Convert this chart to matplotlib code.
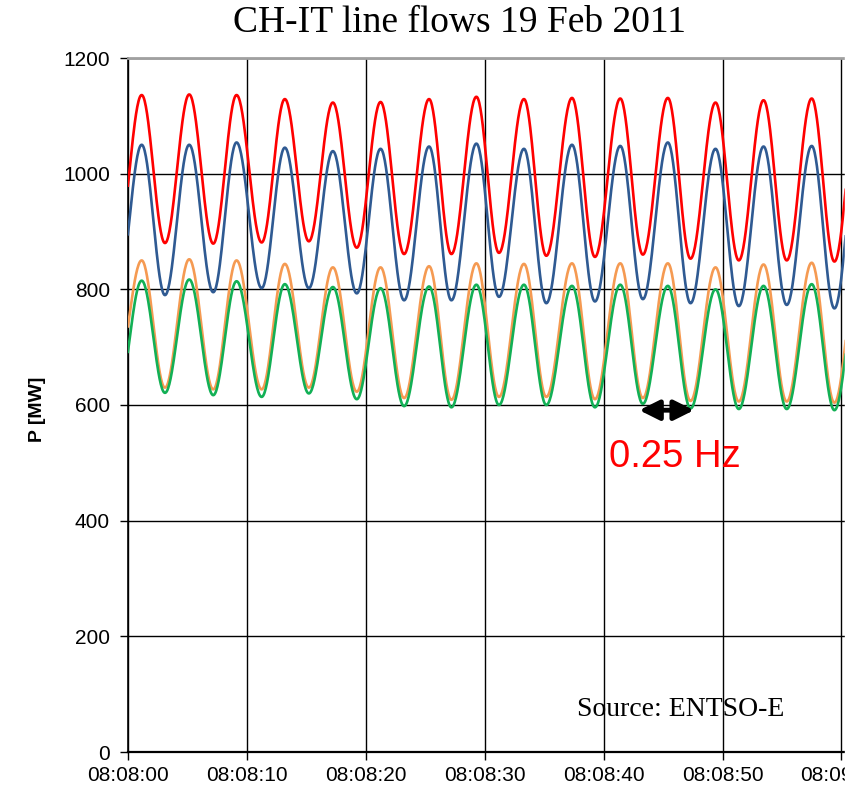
import numpy as np
import matplotlib
matplotlib.use('Agg')
import matplotlib.pyplot as plt
from matplotlib.patches import Rectangle

plt.rcParams['font.family'] = 'Liberation Sans'

# times (s after 08:08:00) of the swing extremes, trough/peak alternating
ext_t = [-0.9, 1.15, 3.11, 5.15, 7.17, 9.13, 11.24, 13.19, 15.21, 17.23,
         19.24, 21.24, 23.22, 25.32, 27.20, 29.30, 31.20, 33.30, 35.18, 37.34,
         39.27, 41.40, 43.30, 45.40, 47.31, 49.41, 51.37, 53.45, 55.40, 57.50,
         59.41, 61.45]

# line flows in MW at those extremes
red = [875, 1136, 880, 1137, 879, 1136, 881, 1129, 883, 1123,
       872, 1124, 861, 1129, 861, 1133, 863, 1129, 858, 1131,
       856, 1130, 860, 1131, 853, 1123, 850, 1127, 850, 1130,
       848, 1130]
blue = [792, 1050, 790, 1050, 795, 1054, 802, 1045, 802, 1039,
        793, 1043, 781, 1047, 781, 1052, 787, 1043, 776, 1050,
        779, 1048, 783, 1054, 776, 1043, 771, 1047, 773, 1048,
        767, 1050]
orange = [660, 850, 630, 852, 627, 850, 627, 844, 630, 838,
          623, 838, 612, 840, 609, 845, 614, 844, 614, 845,
          610, 845, 612, 845, 607, 838, 606, 843, 606, 846,
          604, 846]
green = [610, 815, 621, 817, 617, 814, 614, 809, 620, 804,
         610, 802, 598, 805, 596, 808, 600, 808, 600, 806,
         596, 808, 602, 806, 594, 800, 593, 806, 593, 809,
         591, 809]

tick_pos = [0, 10, 20, 30, 40, 50, 60]
tick_lab = ['08:08:00', '08:08:10', '08:08:20', '08:08:30',
            '08:08:40', '08:08:50', '08:09:00']


def swing(t, v):
    # half-cosine between consecutive extremes
    xs, ys = [], []
    for i in range(len(t) - 1):
        s = np.linspace(0, 1, 40)
        xs.append(t[i] + s * (t[i + 1] - t[i]))
        ys.append(v[i] + (v[i + 1] - v[i]) * (1 - np.cos(np.pi * s)) / 2)
    return np.concatenate(xs), np.concatenate(ys)


fig = plt.figure(figsize=(8.66, 7.9), dpi=100)
ax = fig.add_axes([128 / 866, 38 / 790, 717 / 866, 694 / 790])

for vals, col in [(red, '#FF0000'), (blue, '#2F5A92'),
                  (orange, '#F59A52'), (green, '#12B055')]:
    x, y = swing(ext_t, vals)
    ax.plot(x, y, color=col, lw=1.9, zorder=3)

ax.set_xlim(0, 60.3)
ax.set_ylim(0, 1200)
ax.set_xticks(tick_pos)
ax.set_xticklabels(tick_lab)
ax.set_yticks(range(0, 1201, 200))
ax.grid(True, color='black', lw=1.0, zorder=1)
ax.set_axisbelow(True)
ax.tick_params(axis='both', labelsize=15, length=6, width=1,
               direction='out', colors='black')
ax.tick_params(axis='y', pad=7)
ax.tick_params(axis='x', pad=4)

ax.spines['right'].set_visible(False)
ax.spines['top'].set_color('#A0A0A0')
ax.spines['top'].set_linewidth(2)
ax.spines['bottom'].set_linewidth(1.6)
ax.spines['left'].set_linewidth(1.2)

# 0.25 Hz marker
ax.annotate('', xy=(43.0, 591), xytext=(47.6, 591),
            arrowprops=dict(arrowstyle='<|-|>', color='black', lw=3.5,
                            mutation_scale=30, shrinkA=0, shrinkB=0),
            zorder=5)
ax.text(46.0, 510, '0.25 Hz', color='#FF0000', fontsize=27.5,
        ha='center', va='center')

fig.text(37 / 866, 1 - 409 / 790, 'P [MW]', rotation=90, fontsize=14,
         fontweight='bold', ha='center', va='center')
fig.text(460 / 866, 1 - 23 / 790, 'CH-IT line flows 19 Feb 2011',
         family='Liberation Serif', fontsize=27, ha='center', va='center')
fig.text(681 / 866, 1 - 710 / 790, 'Source: ENTSO-E',
         family='Liberation Serif', fontsize=20, ha='center', va='center')

# picture is cropped on the right
fig.patches.append(Rectangle((845 / 866, 0), 1, 1, transform=fig.transFigure,
                             color='white', zorder=10))

plt.savefig('out.png', dpi=100)
